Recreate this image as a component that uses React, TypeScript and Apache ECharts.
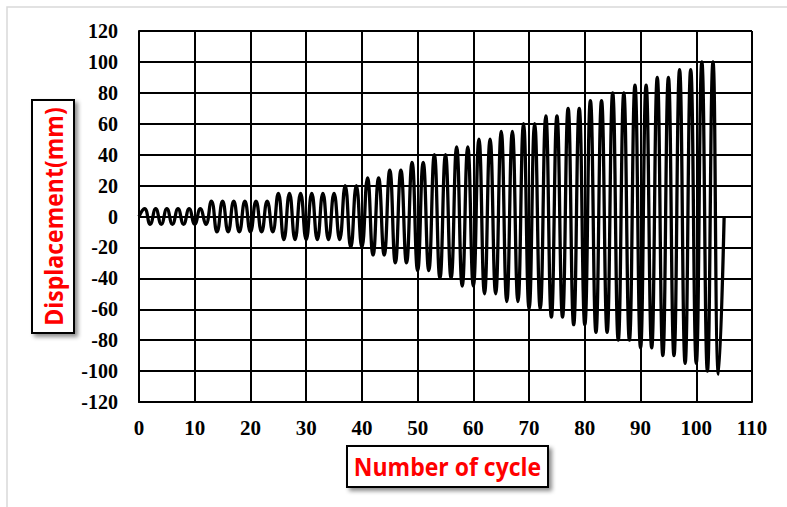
import React, { useEffect, useRef } from "react";
import * as echarts from "echarts";

// Peak (positive) displacement of each cycle, mm
const peaks: number[] = [
  5, 5, 5, 5, 5, 5,
  10, 10, 10, 10, 10, 10,
  15, 15, 15, 15, 15, 15,
  20, 20, 25, 25, 30, 30, 35, 35, 40, 40, 45, 45, 50, 50,
  55, 55, 60, 60, 65, 65, 70, 70, 75, 75, 80, 80, 85, 85,
  90, 90, 95, 95, 100, 100,
];
// Trough (negative) displacement of each cycle, mm
const troughs: number[] = [
  -5, -5, -5, -5, -5, -5,
  -10, -10, -10, -10, -10, -10,
  -15, -15, -15, -15, -15, -15,
  -20, -20, -25, -25, -30, -30, -35, -35, -40, -40, -45, -45, -50, -50,
  -55, -55, -60, -60, -65, -65, -70, -70, -75, -75, -80, -80, -85, -85,
  -90, -90, -95, -95, -100, -102,
];
const startPoint: [number, number] = [0, 0];
const endPoint: [number, number] = [105, 0];

const xTicks = { min: 0, max: 110, interval: 10 };
const yTicks = { min: -120, max: 120, interval: 20 };

const xTitle = "Number of cycle";
const yTitle = "Displacement(mm)";

export default function App() {
  const ref = useRef<HTMLDivElement>(null);

  useEffect(() => {
    document.body.style.margin = "0";
    if (!ref.current) return;
    const chart = echarts.init(ref.current, undefined, { renderer: "svg" });

    const pts: [number, number][] = [startPoint];
    peaks.forEach((p, i) => {
      pts.push([2 * i + 1, p]);
      pts.push([2 * i + 2, troughs[i]]);
    });
    pts.push(endPoint);

    const axisLabelStyle = {
      fontFamily: "Liberation Serif",
      fontWeight: "bold" as const,
      fontSize: 20,
      color: "#000",
    };
    const titleFont = {
      fontFamily: "Open Sans",
      fontWeight: "bold" as const,
      fontSize: 25,
      fill: "#ff0000",
    };
    const boxStyle = {
      fill: "#fff",
      stroke: "#000",
      lineWidth: 2,
      shadowBlur: 4,
      shadowOffsetX: 3,
      shadowOffsetY: 3,
      shadowColor: "rgba(0,0,0,0.45)",
    };

    chart.setOption({
      animation: false,
      backgroundColor: "#fff",
      grid: {
        left: 139,
        right: 35,
        top: 31,
        bottom: 105,
        outerBoundsMode: "none",
      },
      xAxis: {
        type: "value",
        min: xTicks.min,
        max: xTicks.max,
        interval: xTicks.interval,
        axisLine: { show: true, onZero: false, lineStyle: { color: "#000", width: 2 } },
        axisTick: { show: false },
        axisLabel: { ...axisLabelStyle, fontSize: 21, margin: 15 },
        splitLine: { show: true, lineStyle: { color: "#000", width: 2 } },
      },
      yAxis: {
        type: "value",
        min: yTicks.min,
        max: yTicks.max,
        interval: yTicks.interval,
        axisLine: { show: true, onZero: false, lineStyle: { color: "#000", width: 2 } },
        axisTick: { show: false },
        axisLabel: { ...axisLabelStyle, margin: 21 },
        splitLine: { show: true, lineStyle: { color: "#000", width: 2 } },
      },
      series: [
        {
          type: "line",
          data: pts,
          smooth: true,
          showSymbol: false,
          symbol: "none",
          lineStyle: { color: "#000", width: 3.3 },
          z: 5,
        },
      ],
      graphic: [
        {
          type: "rect",
          shape: { x: 7, y: 7, width: 800, height: 520 },
          style: { fill: "none", stroke: "#d9d9d9", lineWidth: 1.5 },
          silent: true,
        },
        {
          type: "rect",
          shape: { x: 32, y: 100, width: 42, height: 233 },
          style: boxStyle,
          z: 10,
        },
        {
          type: "text",
          x: 53,
          y: 216.5,
          rotation: Math.PI / 2,
          scaleX: 0.92,
          style: {
            text: yTitle,
            ...titleFont,
            align: "center",
            verticalAlign: "middle",
          },
          z: 11,
        },
        {
          type: "rect",
          shape: { x: 347, y: 446, width: 201, height: 41 },
          style: boxStyle,
          z: 10,
        },
        {
          type: "text",
          x: 447.5,
          y: 466,
          scaleX: 0.92,
          style: {
            text: xTitle,
            ...titleFont,
            align: "center",
            verticalAlign: "middle",
          },
          z: 11,
        },
      ],
    });

    return () => chart.dispose();
  }, []);

  return <div ref={ref} style={{ width: 787, height: 507 }} />;
}
